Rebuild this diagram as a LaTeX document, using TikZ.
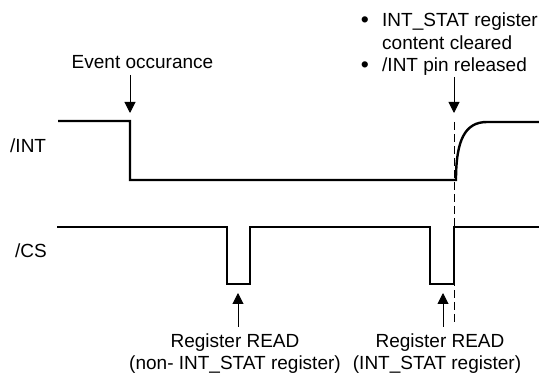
\documentclass[tikz,border=0pt]{standalone}
\usepackage{fontspec}
\setmainfont{Liberation Sans}
\usetikzlibrary{arrows.meta}
\begin{document}
\begin{tikzpicture}[x=1pt,y=-1pt,
  sig/.style={line width=2.4pt,line join=miter},
  lbl/.style={inner sep=0pt,font=\fontsize{19}{22}\selectfont},
  bul/.style={inner sep=0pt,font=\fontsize{23}{22}\selectfont},
  marker/.style={line width=1pt,-{Triangle[length=11pt,width=11pt]}},
  guide/.style={line width=1pt,dash pattern=on 8pt off 4pt}]
\useasboundingbox (0,0) rectangle (539,377);
% labels
\node[lbl,anchor=base west] (lint) at (10,153) {/INT};
\node[lbl,anchor=base west] (lcs) at (15,258) {/CS};
\node[lbl,anchor=base] (ev) at (142.5,69) {Event occurance};
\node[bul,anchor=base] (b1) at (365,28) {\textbullet};
\node[lbl,anchor=base west] (t1) at (382,27) {INT\_STAT register};
\node[lbl,anchor=base west] (t2) at (382,50) {content cleared};
\node[bul,anchor=base] (b2) at (365,73) {\textbullet};
\node[lbl,anchor=base west] (t3) at (382,72) {/INT pin released};
\node[lbl,anchor=base] (r1a) at (235,348) {Register READ};
\node[lbl,anchor=base] (r1b) at (235,369) {(non- INT\_STAT register)};
\node[lbl,anchor=base] (r2a) at (440,348) {Register READ};
\node[lbl,anchor=base] (r2b) at (437,369) {(INT\_STAT register)};
% arrow coordinates
\coordinate (evtail) at (130,75);
\coordinate (evtip) at (130,113);
\coordinate (cltail) at (454,77);
\coordinate (cltip) at (454,113);
\coordinate (rd1tail) at (238,327);
\coordinate (rd1tip) at (238,293);
\coordinate (rd2tail) at (443,327);
\coordinate (rd2tip) at (443,293);
\coordinate (dtop) at (454,122);
\coordinate (dbot) at (454,322);
% signals
\draw[sig] (58,121) -- (130,121) -- (130,180) -- (456,180)
  .. controls (456,140) and (465,122) .. (487,122) -- (539,122);
\draw[sig] (57,227) -- (227,227) -- (227,284) -- (250,284) -- (250,227)
  -- (430,227) -- (430,284) -- (454,284) -- (454,227) -- (539,227);
% guide and arrows
\draw[guide] (dtop) -- (dbot);
\draw[marker] (evtail) -- (evtip);
\draw[marker] (cltail) -- (cltip);
\draw[marker] (rd1tail) -- (rd1tip);
\draw[marker] (rd2tail) -- (rd2tip);
\end{tikzpicture}
\end{document}
